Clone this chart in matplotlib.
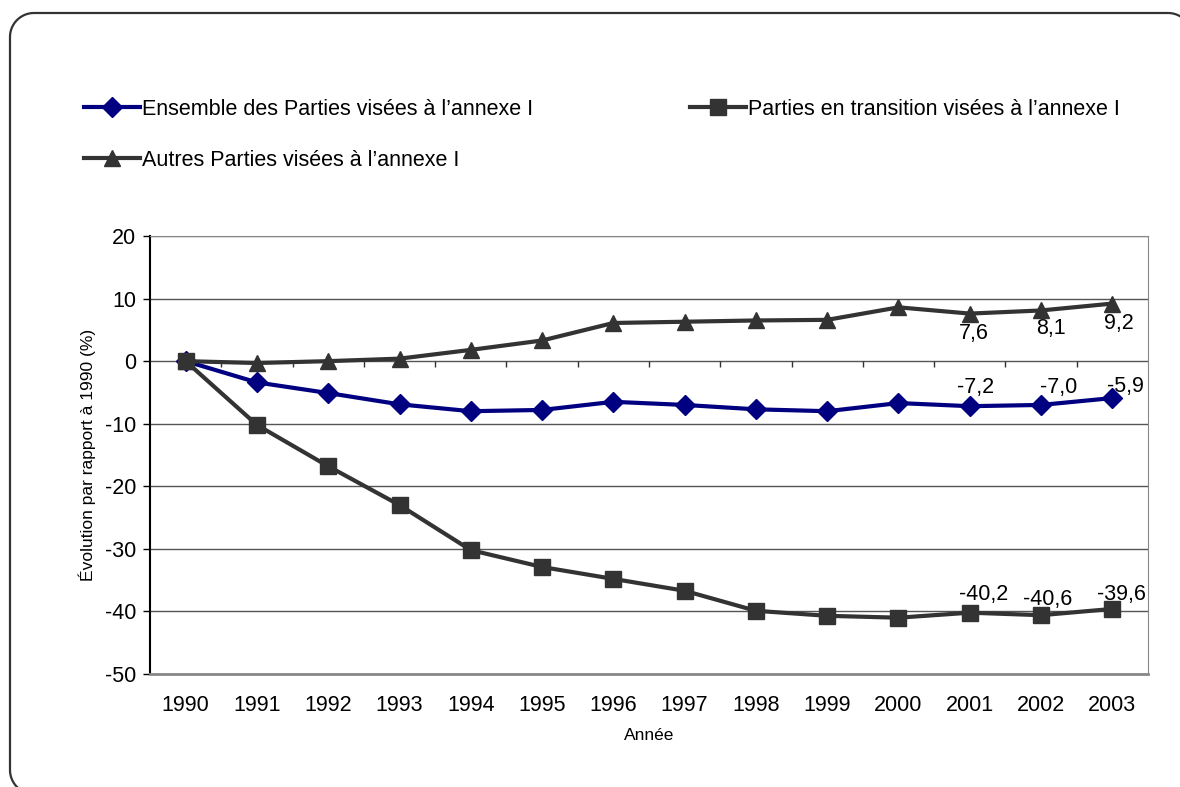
import matplotlib
matplotlib.use("Agg")
import matplotlib.pyplot as plt
import numpy as np

plt.rcParams['font.family'] = ['Liberation Sans', 'DejaVu Sans']
plt.rcParams['axes.unicode_minus'] = False

years = ['1990', '1991', '1992', '1993', '1994', '1995', '1996', '1997',
         '1998', '1999', '2000', '2001', '2002', '2003']
ensemble = [0, -3.4, -5.1, -6.9, -8.0, -7.8, -6.5, -7.0, -7.7, -8.0, -6.7, -7.2, -7.0, -5.9]
transition = [0, -10.2, -16.8, -23.0, -30.2, -32.9, -34.8, -36.7, -39.9, -40.7, -41.0, -40.2, -40.6, -39.6]
autres = [0, -0.3, 0.0, 0.4, 1.8, 3.3, 6.1, 6.3, 6.5, 6.6, 8.6, 7.6, 8.1, 9.2]
labels_names = ["Ensemble des Parties visées à l’annexe I",
                "Parties en transition visées à l’annexe I",
                "Autres Parties visées à l’annexe I"]
label_idx = [11, 12, 13]

W, H = 1180, 787
fig = plt.figure(figsize=(W / 100, H / 100), dpi=100)

# background rounded frame in pixel coordinates (y downward)
bg = fig.add_axes([0, 0, 1, 1])
bg.set_xlim(0, W)
bg.set_ylim(H, 0)
bg.axis('off')
r = 24
left, top, right, bottom = 10, 13, 1192, 794
def arc(cx, cy, a0, a1):
    t = np.radians(np.linspace(a0, a1, 30))
    return cx + r * np.cos(t), cy + r * np.sin(t)
ax1, ay1 = arc(left + r, bottom - r, 90, 180)
ax2, ay2 = arc(left + r, top + r, 180, 270)
ax3, ay3 = arc(right - r, top + r, 270, 360)
fx = np.concatenate([ax1, ax2, ax3])
fy = np.concatenate([ay1, ay2, ay3])
bg.plot(fx, fy, color='#333333', lw=1.6, solid_capstyle='butt')

ax = fig.add_axes([150 / W, 1 - 674 / H, (1148 - 150) / W, (674 - 236) / H])
x = list(range(len(years)))
navy = '#000080'
dark = '#333333'
l1, = ax.plot(x, ensemble, color=navy, lw=3, marker='D', ms=10, zorder=5)
l2, = ax.plot(x, transition, color=dark, lw=3, marker='s', ms=11, zorder=5)
l3, = ax.plot(x, autres, color=dark, lw=3, marker='^', ms=12, zorder=5)

ax.set_xlim(-0.5, len(years) - 0.5)
ax.set_ylim(-50, 20)
ax.set_yticks(range(-50, 21, 10))
ax.set_xticks(x)
ax.set_xticklabels(years)
ax.tick_params(axis='x', length=0, pad=15, labelsize=15.5)
ax.tick_params(axis='y', length=5, width=1, direction='out', pad=5, labelsize=15.5)
ax.yaxis.grid(True, color='#555555', lw=1)
ax.set_axisbelow(True)
for s in ['top', 'right', 'bottom']:
    ax.spines[s].set_color('#888888')
ax.spines['bottom'].set_linewidth(2)
ax.spines['left'].set_color('black')
ax.spines['left'].set_linewidth(1.5)

# category-boundary ticks on the zero line
ax.vlines([i + 0.5 for i in x[:-1]], -0.9, 0, color='#333333', lw=1, zorder=2)

ax.set_xlabel('Année', fontsize=12.5, labelpad=9)
ax.set_ylabel('Évolution par rapport à 1990 (%)', fontsize=12.5, labelpad=6)

def fmt(v):
    return f"{v:.1f}".replace('.', ',')

for i, (dx, dy) in zip(label_idx, [(4, -20), (10, -18), (7, -20)]):
    ax.annotate(fmt(autres[i]), (i, autres[i]), xytext=(dx, dy),
                textcoords='offset pixels', ha='center', va='center', fontsize=15.5)
for i, (dx, dy) in zip(label_idx, [(6, 19), (18, 17), (13, 12)]):
    ax.annotate(fmt(ensemble[i]), (i, ensemble[i]), xytext=(dx, dy),
                textcoords='offset pixels', ha='center', va='center', fontsize=15.5)
for i, (dx, dy) in zip(label_idx, [(14, 18), (7, 16), (9, 14)]):
    ax.annotate(fmt(transition[i]), (i, transition[i]), xytext=(dx, dy),
                textcoords='offset pixels', ha='center', va='center', fontsize=15.5)

leg = fig.legend([l1, l3, l2], [labels_names[0], labels_names[2], labels_names[1]],
                 ncol=2, loc='upper left', bbox_to_anchor=(75 / W, 1 - 90 / H),
                 frameon=False, fontsize=15.5, handlelength=2.6, handletextpad=0.1,
                 columnspacing=7.3, labelspacing=1.41, borderaxespad=0)

fig.savefig('out.png', dpi=100)
